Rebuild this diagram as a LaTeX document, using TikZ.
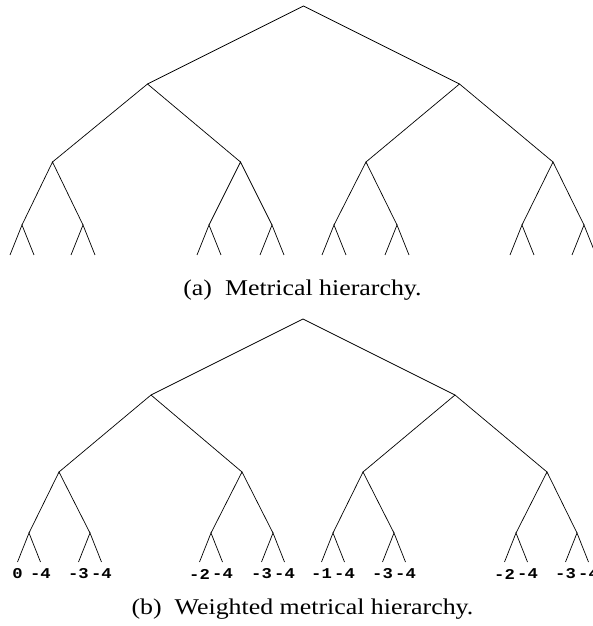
\documentclass[tikz,border=0pt]{standalone}
\usepackage{fontspec}
\setmainfont{Liberation Serif}
\setmonofont{Liberation Mono}
\usetikzlibrary{positioning}

\begin{document}
\begin{tikzpicture}[
  x=1pt, y=1pt,
  branch/.style = {line width=0.7pt, black, line join=miter},
  wlabel/.style = {inner sep=0pt, font=\fontsize{15}{15}\selectfont\ttfamily\bfseries},
  caption/.style = {inner sep=0pt, font=\fontsize{22.5}{27}\selectfont}
]
  \useasboundingbox (0,0) rectangle (592,626);

  % (a) metrical hierarchy
  \coordinate (a0) at (303.5,620);
  \coordinate (a1-1) at (147.5,542);
  \coordinate (a1-2) at (459.5,542);
  \foreach \i/\x in {1/52.5, 2/240.5, 3/366, 4/553}
    \coordinate (a2-\i) at (\x,464);
  \foreach \i/\x in {1/22, 2/83, 3/209, 4/272, 5/334, 6/397, 7/522, 8/584} {
    \coordinate (a3-\i) at (\x,401);
    \path (a3-\i) ++(-12,-30) coordinate (a4-\i-l);
    \path (a3-\i) ++(12,-30) coordinate (a4-\i-r);
  }

  \draw[branch] (a1-1) -- (a0) -- (a1-2);
  \draw[branch] (a2-1) -- (a1-1) -- (a2-2);
  \draw[branch] (a2-3) -- (a1-2) -- (a2-4);
  \foreach \p/\l/\r in {1/1/2, 2/3/4, 3/5/6, 4/7/8}
    \draw[branch] (a3-\l) -- (a2-\p) -- (a3-\r);
  \foreach \i in {1,...,8}
    \draw[branch] (a4-\i-l) -- (a3-\i) -- (a4-\i-r);

  \node[caption] (capa) at (302.5,336) {\scalebox{1.15}[1]{(a)\enspace Metrical hierarchy.}};

  % (b) weighted metrical hierarchy
  \coordinate (b0) at (303,307);
  \coordinate (b1-1) at (151,231);
  \coordinate (b1-2) at (455,231);
  \foreach \i/\x in {1/59, 2/242, 3/363, 4/547}
    \coordinate (b2-\i) at (\x,154);
  \foreach \i/\x in {1/29, 2/90, 3/211, 4/273, 5/333, 6/394, 7/516, 8/577} {
    \coordinate (b3-\i) at (\x,93);
    \path (b3-\i) ++(-11.5,-29) coordinate (b4-\i-l);
    \path (b3-\i) ++(11.5,-29) coordinate (b4-\i-r);
  }

  \draw[branch] (b1-1) -- (b0) -- (b1-2);
  \draw[branch] (b2-1) -- (b1-1) -- (b2-2);
  \draw[branch] (b2-3) -- (b1-2) -- (b2-4);
  \foreach \p/\l/\r in {1/1/2, 2/3/4, 3/5/6, 4/7/8}
    \draw[branch] (b3-\l) -- (b2-\p) -- (b3-\r);
  \foreach \i in {1,...,8}
    \draw[branch] (b4-\i-l) -- (b3-\i) -- (b4-\i-r);

  % weights under the leaves
  \foreach \i/\wl/\wr in {1/0/-4, 2/-3/-4, 3/-2/-4, 4/-3/-4, 5/-1/-4, 6/-3/-4, 7/-2/-4, 8/-3/-4} {
    \path (b4-\i-l) ++(0,-12) node[wlabel] (w-\i-l) {\scalebox{1.15}[1]{\wl}};
    \path (b4-\i-r) ++(0,-12) node[wlabel] (w-\i-r) {\scalebox{1.15}[1]{\wr}};
  }

  \node[caption] (capb) at (302.5,17) {\scalebox{1.15}[1]{(b)\enspace Weighted metrical hierarchy.}};
\end{tikzpicture}
\end{document}
